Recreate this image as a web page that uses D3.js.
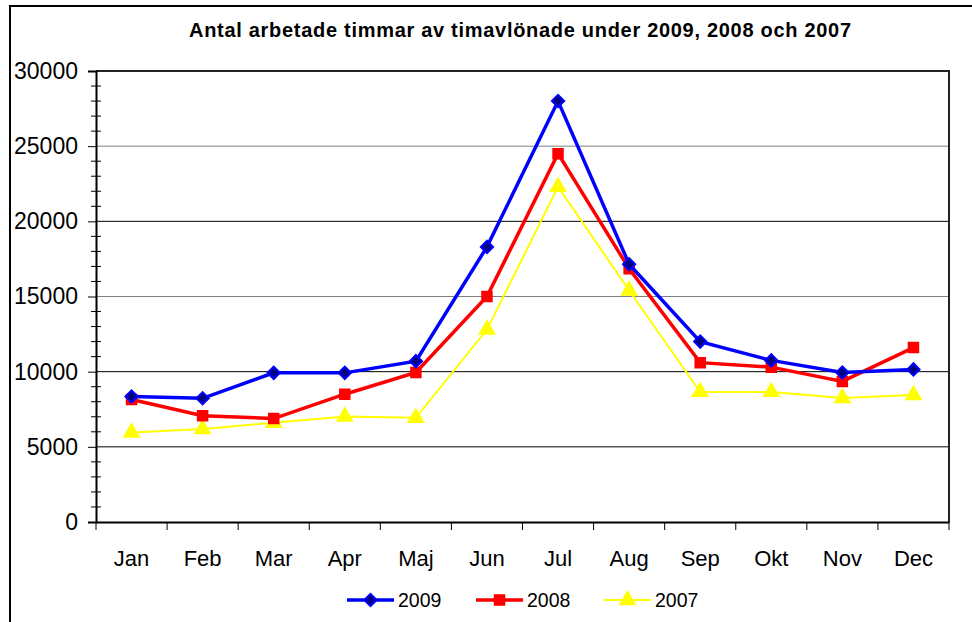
<!DOCTYPE html>
<html>
<head>
<meta charset="utf-8">
<script src="https://cdn.jsdelivr.net/npm/d3@7"></script>
<style>
  body { margin: 0; background: #fff; }
  svg text { font-family: "Liberation Sans", Arial, sans-serif; }
</style>
</head>
<body>
<div id="chart"></div>
<script>
var months = ['Jan', 'Feb', 'Mar', 'Apr', 'Maj', 'Jun', 'Jul', 'Aug', 'Sep', 'Okt', 'Nov', 'Dec'];
var y2009 = [8350, 8230, 9920, 9920, 10700, 18300, 28000, 17150, 12000, 10750, 9950, 10150];
var y2008 = [8150, 7070, 6880, 8500, 9950, 15000, 24500, 16850, 10600, 10300, 9350, 11600];
var y2007 = [5950, 6180, 6600, 7020, 6930, 12800, 22300, 15400, 8650, 8650, 8250, 8450];
var yTicks = [0, 5000, 10000, 15000, 20000, 25000, 30000];
var seriesNames = ['2009', '2008', '2007'];

var W = 972, H = 622;
var plotLeft = 96, plotRight = 949, plotTop = 71, plotBottom = 522;

var svg = d3.select('#chart').append('svg')
  .attr('width', W)
  .attr('height', H);

// outer frame
svg.append('rect')
  .attr('x', 10).attr('y', 6)
  .attr('width', 1000).attr('height', 1000)
  .attr('fill', 'none')
  .attr('stroke', '#000')
  .attr('stroke-width', 2);

svg.append('text')
  .attr('x', 189).attr('y', 37)
  .attr('textLength', 662)
  .attr('lengthAdjust', 'spacing')
  .style('font-weight', 'bold')
  .style('font-size', '20px')
  .text('Antal arbetade timmar av timavlönade under 2009, 2008 och 2007');

var x = d3.scaleBand().domain(months).range([plotLeft, plotRight]);
var y = d3.scaleLinear().domain([0, 30000]).range([plotBottom, plotTop]);

// gridlines
svg.append('g').selectAll('line')
  .data(yTicks.filter(function (d) { return d > 0 && d < 30000; }))
  .enter().append('line')
  .attr('x1', plotLeft).attr('x2', plotRight)
  .attr('y1', function (d) { return y(d); })
  .attr('y2', function (d) { return y(d); })
  .attr('stroke', function (d) { return (d == 25000 || d == 15000) ? '#808080' : '#000'; })
  .attr('stroke-width', 1);

// plot frame top/right
svg.append('path')
  .attr('d', 'M' + plotLeft + ',' + plotTop + 'H' + plotRight + 'V' + plotBottom)
  .attr('fill', 'none')
  .attr('stroke', '#222')
  .attr('stroke-width', 2);

// minor ticks
svg.append('g').selectAll('line')
  .data(d3.range(1000, 30000, 1000).filter(function (d) { return d % 5000 != 0; }))
  .enter().append('line')
  .attr('x1', plotLeft - 5).attr('x2', plotLeft + 5)
  .attr('y1', function (d) { return y(d); })
  .attr('y2', function (d) { return y(d); })
  .attr('stroke', '#000');

var yAxis = svg.append('g')
  .attr('transform', 'translate(' + plotLeft + ',0)')
  .call(d3.axisLeft(y).tickValues(yTicks).tickSize(8).tickPadding(10).tickFormat(d3.format('d')));
yAxis.select('.domain').attr('stroke-width', 2);
yAxis.selectAll('.tick line').attr('stroke-width', 1);
yAxis.selectAll('text').style('font-size', '23px').attr('fill', '#000');

var xAxis = svg.append('g')
  .attr('transform', 'translate(0,' + plotBottom + ')')
  .call(d3.axisBottom(x).tickSize(0).tickPadding(28));
xAxis.select('.domain').attr('stroke-width', 2);
xAxis.selectAll('text').style('font-size', '22px').attr('fill', '#000');

// category boundary ticks
svg.append('g').selectAll('line')
  .data(d3.range(months.length + 1))
  .enter().append('line')
  .attr('x1', function (i) { return plotLeft + i * x.step(); })
  .attr('x2', function (i) { return plotLeft + i * x.step(); })
  .attr('y1', plotBottom).attr('y2', plotBottom + 8)
  .attr('stroke', '#000');

var series = [
  { name: seriesNames[0], values: y2009, color: '#0000ff', width: 3.5, marker: d3.symbolSquare, rot: 45, size: 75, fill: '#000080' },
  { name: seriesNames[1], values: y2008, color: '#ff0000', width: 3.5, marker: d3.symbolSquare, rot: 0, size: 90, fill: '#ff0000' },
  { name: seriesNames[2], values: y2007, color: '#ffff00', width: 2, marker: d3.symbolTriangle, rot: 0, size: 90, fill: '#ffff00' }
];

var line = d3.line()
  .x(function (d, i) { return x(months[i]) + x.bandwidth() / 2; })
  .y(function (d) { return y(d); });

// draw 2007 first so 2009 sits on top
series.slice().reverse().forEach(function (s) {
  svg.append('path')
    .attr('d', line(s.values))
    .attr('fill', 'none')
    .attr('stroke', s.color)
    .attr('stroke-width', s.width);
  svg.append('g').selectAll('path')
    .data(s.values)
    .enter().append('path')
    .attr('transform', function (d, i) {
      return 'translate(' + (x(months[i]) + x.bandwidth() / 2) + ',' + y(d) + ') rotate(' + s.rot + ')';
    })
    .attr('d', d3.symbol().type(s.marker).size(s.size))
    .attr('fill', s.fill)
    .attr('stroke', s.color)
    .attr('stroke-width', 2);
});

// legend
var legendX = [347, 476, 604];
series.forEach(function (s, i) {
  var g = svg.append('g').attr('transform', 'translate(' + legendX[i] + ',600)');
  g.append('line').attr('x1', 0).attr('x2', 47)
    .attr('stroke', s.color).attr('stroke-width', s.width);
  g.append('path')
    .attr('transform', 'translate(23.5,0) rotate(' + s.rot + ')')
    .attr('d', d3.symbol().type(s.marker).size(s.size))
    .attr('fill', s.fill)
    .attr('stroke', s.color)
    .attr('stroke-width', 2);
  g.append('text')
    .attr('x', 51).attr('y', 7)
    .style('font-size', '19.5px')
    .text(s.name);
});
</script>
</body>
</html>
